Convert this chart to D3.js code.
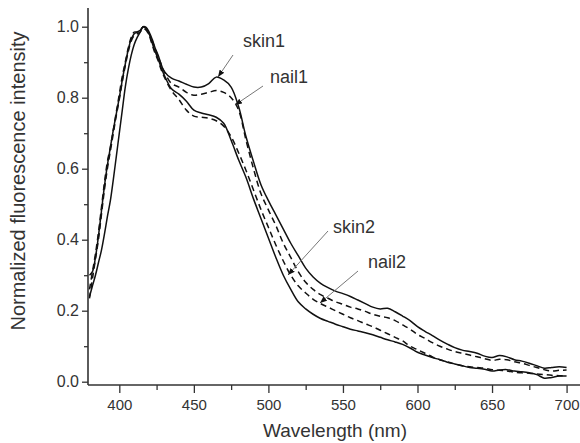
<!DOCTYPE html>
<html><head><meta charset="utf-8">
<script src="https://cdn.jsdelivr.net/npm/d3@7/dist/d3.min.js"></script>
<style>body{margin:0;background:#fff}svg{display:block}</style>
</head><body>
<svg id="c" width="580" height="443"></svg>
<script>
// wavelengths (nm)
const wavelength = [380,382,384,386,388,390,392,394,396,398,400,402,404,406,408,410,412,414,416,418,420,422,424,426,428,430,
 435,440,445,450,455,460,465,470,475,480,485,490,495,500,505,510,515,520,525,530,535,540,545,550,555,560,565,570,575,580,585,590,595,600,605,610,615,620,625,630,635,640,645,650,655,660,665,670,675,680,685,690,695,700];

const skin1 = [0.24,0.27,0.30,0.335,0.37,0.415,0.465,0.51,0.57,0.635,0.70,0.765,0.83,0.88,0.92,0.95,0.97,0.985,1.0,0.998,0.985,0.965,0.94,0.92,0.895,0.875,
 0.855,0.847,0.838,0.83,0.83,0.84,0.858,0.85,0.83,0.775,0.69,0.62,0.555,0.51,0.47,0.43,0.39,0.355,0.32,0.295,0.277,0.265,0.255,0.248,0.24,0.23,0.22,0.21,0.205,0.207,0.197,0.185,0.172,0.155,0.142,0.13,0.117,0.106,0.096,0.089,0.085,0.08,0.072,0.068,0.074,0.07,0.062,0.058,0.052,0.045,0.038,0.04,0.042,0.04];

const nail1 = [0.26,0.31,0.36,0.42,0.49,0.56,0.62,0.66,0.71,0.76,0.81,0.86,0.90,0.94,0.97,0.985,0.985,0.99,1.0,0.995,0.98,0.96,0.94,0.915,0.895,0.875,
 0.84,0.83,0.815,0.807,0.81,0.815,0.82,0.815,0.80,0.765,0.68,0.60,0.53,0.484,0.44,0.39,0.35,0.31,0.28,0.26,0.245,0.235,0.225,0.218,0.21,0.205,0.198,0.19,0.184,0.18,0.172,0.16,0.148,0.133,0.122,0.11,0.10,0.092,0.085,0.08,0.075,0.07,0.065,0.06,0.063,0.062,0.056,0.052,0.046,0.04,0.034,0.03,0.032,0.033];

const skin2 = [0.30,0.31,0.35,0.41,0.48,0.55,0.61,0.66,0.71,0.755,0.80,0.85,0.895,0.935,0.965,0.98,0.985,0.99,1.0,0.995,0.98,0.955,0.93,0.91,0.885,0.865,
 0.825,0.81,0.79,0.765,0.757,0.752,0.745,0.728,0.68,0.625,0.575,0.515,0.46,0.405,0.35,0.30,0.26,0.225,0.205,0.19,0.178,0.17,0.162,0.155,0.148,0.143,0.138,0.132,0.125,0.118,0.112,0.105,0.095,0.083,0.075,0.068,0.062,0.055,0.05,0.045,0.04,0.038,0.035,0.03,0.033,0.034,0.03,0.028,0.025,0.02,0.01,0.012,0.016,0.016];

const nail2 = [0.235,0.29,0.345,0.40,0.47,0.54,0.60,0.65,0.70,0.75,0.795,0.845,0.89,0.93,0.96,0.975,0.98,0.985,0.995,0.99,0.975,0.95,0.925,0.905,0.88,0.86,
 0.82,0.795,0.765,0.748,0.745,0.742,0.735,0.72,0.69,0.645,0.595,0.54,0.485,0.435,0.385,0.34,0.30,0.27,0.25,0.232,0.22,0.21,0.20,0.19,0.18,0.172,0.163,0.155,0.145,0.135,0.125,0.115,0.10,0.09,0.08,0.07,0.062,0.056,0.05,0.045,0.042,0.04,0.038,0.034,0.032,0.03,0.027,0.025,0.024,0.022,0.02,0.018,0.017,0.016];

const seriesNames = ["skin1","nail1","skin2","nail2"];
const xTicks = [400,450,500,550,600,650,700];
const yTicks = [0.0,0.2,0.4,0.6,0.8,1.0];

const svg = d3.select("#c");
const M = {l:88, t:8, r:580, b:385};
const x = d3.scaleLinear().domain([379,709]).range([M.l, M.r]);
const y = d3.scaleLinear().domain([-0.0093,1.0527]).range([M.b, M.t]);

const axisColor = "#333";
const font = "'Liberation Sans', Arial, sans-serif";

// minor ticks
const gxm = svg.append("g").attr("transform",`translate(0,${M.b})`)
  .call(d3.axisBottom(x).tickValues(d3.range(425,701,50)).tickSize(5).tickFormat(""));
const gym = svg.append("g").attr("transform",`translate(${M.l},0)`)
  .call(d3.axisLeft(y).tickValues([0.1,0.3,0.5,0.7,0.9]).tickSize(4).tickFormat(""));
[gxm,gym].forEach(g=>{g.select(".domain").remove(); g.selectAll("line").attr("stroke",axisColor).attr("stroke-width",1.3);});

const gx = svg.append("g").attr("transform",`translate(0,${M.b})`)
  .call(d3.axisBottom(x).tickValues(xTicks).tickSize(8).tickPadding(6).tickFormat(d3.format("d")));
const gy = svg.append("g").attr("transform",`translate(${M.l},0)`)
  .call(d3.axisLeft(y).tickValues(yTicks).tickSize(6).tickPadding(3).tickFormat(d3.format(".1f")));
[gx,gy].forEach(g=>{
  g.select(".domain").attr("stroke",axisColor).attr("stroke-width",1.6);
  g.selectAll("line").attr("stroke",axisColor).attr("stroke-width",1.3);
  g.selectAll("text").attr("fill","#333").style("font-family",font).style("font-size","15px");
});
gy.selectAll("text").style("font-size","16px");
gx.select(".domain").attr("d",`M${M.l},0H${M.r}`);
gy.select(".domain").attr("d",`M0,${M.b}V${M.t}`);

// curves
const data = {skin1, nail1, skin2, nail2};
const line = d3.line().x((d,i)=>x(wavelength[i])).y(d=>y(d)).curve(d3.curveCatmullRom.alpha(0.5));
seriesNames.forEach(n=>{
  svg.append("path").attr("d", line(data[n])).attr("fill","none")
    .attr("stroke","#111").attr("stroke-width",1.5)
    .attr("stroke-dasharray", n.startsWith("nail") ? "6,4" : null);
});

// annotations
svg.append("defs").append("marker").attr("id","ah").attr("viewBox","0 0 10 10")
  .attr("refX",10).attr("refY",5).attr("markerWidth",7).attr("markerHeight",7).attr("orient","auto")
  .append("path").attr("d","M0,1L10,5L0,9Z").attr("fill","#111");
const labels = [
  {t:"skin1", tx:243, ty:47, x1:233, y1:55, x2:218, y2:77},
  {t:"nail1", tx:270, ty:83, x1:263, y1:86, x2:235, y2:105},
  {t:"skin2", tx:333, ty:233, x1:328, y1:231, x2:288, y2:275},
  {t:"nail2", tx:368, ty:268, x1:358, y1:271, x2:320, y2:303}
];
labels.forEach(a=>{
  svg.append("line").attr("x1",a.x1).attr("y1",a.y1).attr("x2",a.x2).attr("y2",a.y2)
    .attr("stroke","#777").attr("stroke-width",1).attr("marker-end","url(#ah)");
  svg.append("text").attr("x",a.tx).attr("y",a.ty).text(a.t)
    .style("font-family",font).style("font-size","18px").attr("fill","#333");
});

svg.append("text").attr("x",335).attr("y",437).attr("text-anchor","middle")
  .text("Wavelength (nm)").style("font-family",font).style("font-size","19px").attr("fill","#333");
svg.append("text").attr("transform",`translate(25,181) rotate(-90)`).attr("text-anchor","middle")
  .text("Normalized fluorescence intensity").style("font-family",font).style("font-size","20px").attr("fill","#333");
</script>
</body></html>
